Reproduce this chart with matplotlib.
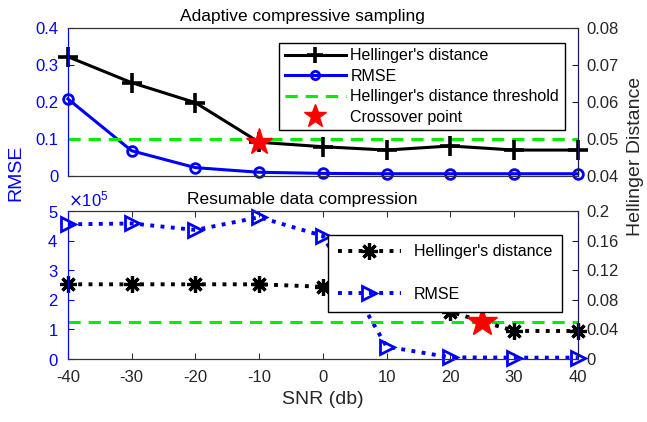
import numpy as np
import matplotlib
matplotlib.use("Agg")
import matplotlib.pyplot as plt
from matplotlib.ticker import ScalarFormatter, FormatStrFormatter

plt.rcParams['font.family'] = ['Liberation Sans', 'DejaVu Sans']
plt.rcParams['axes.unicode_minus'] = False

snr = [-40, -30, -20, -10, 0, 10, 20, 30, 40]

# adaptive compressive sampling
acs_hd = [0.0722, 0.0652, 0.0598, 0.0491, 0.0479, 0.0470, 0.0481, 0.0470, 0.0470]
acs_rmse = [0.208, 0.068, 0.0225, 0.010, 0.007, 0.006, 0.006, 0.006, 0.006]
acs_cross = (-10, 0.0491)

# resumable data compression
rdc_hd = [0.101, 0.101, 0.101, 0.101, 0.0977, 0.093, 0.064, 0.038, 0.038]
rdc_rmse = [4.55e5, 4.58e5, 4.36e5, 4.79e5, 4.16e5, 0.42e5, 0.06e5, 0.05e5, 0.05e5]
rdc_cross = (25, 0.05)

hd_threshold = 0.05

blue = '#0000ff'
green = '#00ee00'
navy = '#1a1a4d'
spine_gray = '#333333'

fig = plt.figure(figsize=(6.47, 4.22), dpi=100)
ax1 = fig.add_axes([0.105, 0.583, 0.788, 0.351])
ax2 = fig.add_axes([0.105, 0.149, 0.788, 0.351])
ax1r = ax1.twinx()
ax2r = ax2.twinx()

# top panel
l_rmse, = ax1.plot(snr, acs_rmse, '-o', color=blue, lw=2.2, ms=7, mew=2,
                   mfc='none', label='RMSE', clip_on=False)
l_thr, = ax1r.plot([snr[0], snr[-1]], [hd_threshold, hd_threshold], '--',
                   color=green, lw=2.2, dashes=(4, 2.6),
                   label="Hellinger's distance threshold")
l_hd, = ax1r.plot(snr, acs_hd, '-+', color='k', lw=2.2, ms=14, mew=2.6,
                  label="Hellinger's distance", clip_on=False)
l_star, = ax1r.plot([acs_cross[0]], [acs_cross[1]], '*', color='red', ms=20,
                    ls='none', label='Crossover point')

ax1.set_xlim(-40, 40)
ax1.set_ylim(0, 0.4)
ax1.set_yticks([0, 0.1, 0.2, 0.3, 0.4])
ax1.yaxis.set_major_formatter(FormatStrFormatter('%g'))
ax1r.set_ylim(0.04, 0.08)
ax1r.set_yticks([0.04, 0.05, 0.06, 0.07, 0.08])
ax1.set_xticks([])
ax1.set_title('Adaptive compressive sampling', fontsize=12.5, pad=5, x=0.46)

leg1 = ax1r.legend(handles=[l_hd, l_rmse, l_thr, l_star], loc='upper right',
                   bbox_to_anchor=(0.99, 0.955), fontsize=11.5,
                   handlelength=3.8, labelspacing=0.35, borderpad=0.35,
                   handletextpad=0.3, fancybox=False, framealpha=1,
                   edgecolor='k', markerscale=0.85)
leg1.get_frame().set_linewidth(1)

# bottom panel
l2_rmse, = ax2.plot(snr, rdc_rmse, ':>', color=blue, lw=2.8, ms=10, mew=2,
                    mfc='none', label='RMSE', clip_on=False)
ax2r.plot([snr[0], snr[-1]], [hd_threshold, hd_threshold], '--',
          color=green, lw=2.2, dashes=(4, 2.6))
l2_hd, = ax2r.plot(snr, rdc_hd, ':', color='k', lw=2.8, marker=(8, 2, 0),
                   ms=12, mew=2.3, label="Hellinger's distance", clip_on=False)
ax2r.plot([rdc_cross[0]], [rdc_cross[1]], '*', color='red', ms=22, ls='none')

ax2.set_xlim(-40, 40)
ax2.set_ylim(0, 5e5)
ax2.set_yticks([0, 1e5, 2e5, 3e5, 4e5, 5e5])
fmt = ScalarFormatter(useMathText=True)
fmt.set_powerlimits((0, 0))
ax2.yaxis.set_major_formatter(fmt)
ax2.yaxis.get_offset_text().set_color(blue)
ax2.yaxis.get_offset_text().set_fontsize(12)
ax2r.set_ylim(0, 0.2)
ax2r.set_yticks([0, 0.04, 0.08, 0.12, 0.16, 0.2])
ax2r.yaxis.set_major_formatter(FormatStrFormatter('%g'))
ax2.set_xticks(snr)
ax2.set_title('Resumable data compression', fontsize=12.5, pad=5, x=0.46)
ax2.set_xlabel('SNR (db)', fontsize=14, color='#262626', labelpad=4)

leg2 = ax2r.legend(handles=[l2_hd, l2_rmse], loc='upper right',
                   bbox_to_anchor=(0.985, 0.895), fontsize=11.5,
                   handlelength=4.0, labelspacing=1.75, borderpad=0.6,
                   handletextpad=0.8, fancybox=False, framealpha=1,
                   edgecolor='k')
leg2.get_frame().set_linewidth(1)

for a, ar in [(ax1, ax1r), (ax2, ax2r)]:
    a.tick_params(axis='y', colors=blue, direction='in', labelsize=12,
                  length=4, pad=7)
    a.tick_params(axis='x', colors=spine_gray, labelcolor='#262626',
                  direction='in', labelsize=12, top=True, length=4, pad=8)
    ar.tick_params(axis='y', colors=navy, labelcolor='#262626', direction='in',
                   labelsize=12, length=4, pad=6)
    for ax in (a, ar):
        ax.spines['left'].set_color(blue)
        ax.spines['right'].set_color(navy)
        ax.spines['top'].set_color(spine_gray)
        ax.spines['bottom'].set_color(spine_gray)

fig.text(0.025, 0.59, 'RMSE', rotation=90, fontsize=14, color=blue,
         ha='center', va='center')
fig.text(0.982, 0.63, 'Hellinger Distance', rotation=90, fontsize=14,
         color='#262626', ha='center', va='center')

fig.savefig('out.png', dpi=100)
